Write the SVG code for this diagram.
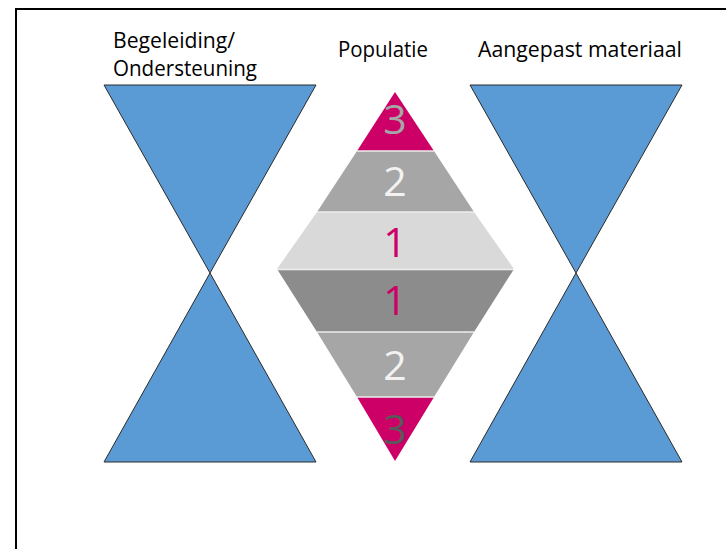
<svg xmlns="http://www.w3.org/2000/svg" width="726" height="549" viewBox="0 0 726 549">
<style>
.lbl{font-family:"Open Sans","Liberation Sans",sans-serif;font-size:21px;fill:#000}
.num{font-family:"Open Sans","Liberation Sans",sans-serif;font-size:41px;text-anchor:middle}
.hg{fill:#5B9BD5;stroke:#2A2A2A;stroke-width:1;stroke-linejoin:miter}
.sep{stroke:#EDEDED;stroke-width:1.5}
</style>
<rect x="0" y="0" width="726" height="549" fill="#fff"/>
<rect id="frame" x="16" y="9" width="730" height="560" fill="none" stroke="#000" stroke-width="2"/>

<g id="label-begeleiding">
<text class="lbl" x="113" y="48" textLength="122" lengthAdjust="spacingAndGlyphs">Begeleiding/</text>
<text class="lbl" x="113" y="76" textLength="144" lengthAdjust="spacingAndGlyphs">Ondersteuning</text>
</g>
<g id="label-populatie">
<text class="lbl" x="338" y="57" textLength="90" lengthAdjust="spacingAndGlyphs">Populatie</text>
</g>
<g id="label-materiaal">
<text class="lbl" x="478" y="57" textLength="204" lengthAdjust="spacingAndGlyphs">Aangepast materiaal</text>
</g>

<g id="hourglass-left">
<polygon class="hg" points="104,85 316,85 210,273"/>
<polygon class="hg" points="210,273 316,462 104,462"/>
</g>
<g id="hourglass-right">
<polygon class="hg" points="470,85 682,85 576,273"/>
<polygon class="hg" points="576,273 682,462 470,462"/>
</g>

<g id="pop-top-3">
<polygon points="395,92 434,151 357,151" fill="#CC0066"/>
<text class="num" x="395" y="134" fill="#A6A6A6">3</text>
</g>
<g id="pop-top-2">
<polygon points="357,151 434,151 474,212 317,212" fill="#A6A6A6"/>
<text class="num" x="395" y="196" fill="#F2F2F2">2</text>
</g>
<g id="pop-top-1">
<polygon points="317,212 474,212 514,269 277,269" fill="#D9D9D9"/>
<text class="num" x="395" y="257" fill="#CC0066">1</text>
</g>
<g id="pop-bottom-1">
<polygon points="277,269 514,269 474,332 317,332" fill="#8C8C8C"/>
<text class="num" x="395" y="315" fill="#CC0066">1</text>
</g>
<g id="pop-bottom-2">
<polygon points="317,332 474,332 434,397 357,397" fill="#A6A6A6"/>
<text class="num" x="395" y="380" fill="#F2F2F2">2</text>
</g>
<g id="pop-bottom-3">
<polygon points="357,397 434,397 395,461" fill="#CC0066"/>
<text class="num" x="395" y="444" fill="#595959">3</text>
</g>
<g id="separators">
<line class="sep" x1="357" y1="151" x2="434" y2="151"/>
<line class="sep" x1="317" y1="212" x2="474" y2="212"/>
<line class="sep" x1="277" y1="269.5" x2="514" y2="269.5"/>
<line class="sep" x1="317" y1="332" x2="474" y2="332"/>
<line class="sep" x1="357" y1="397" x2="434" y2="397"/>
</g>
</svg>
